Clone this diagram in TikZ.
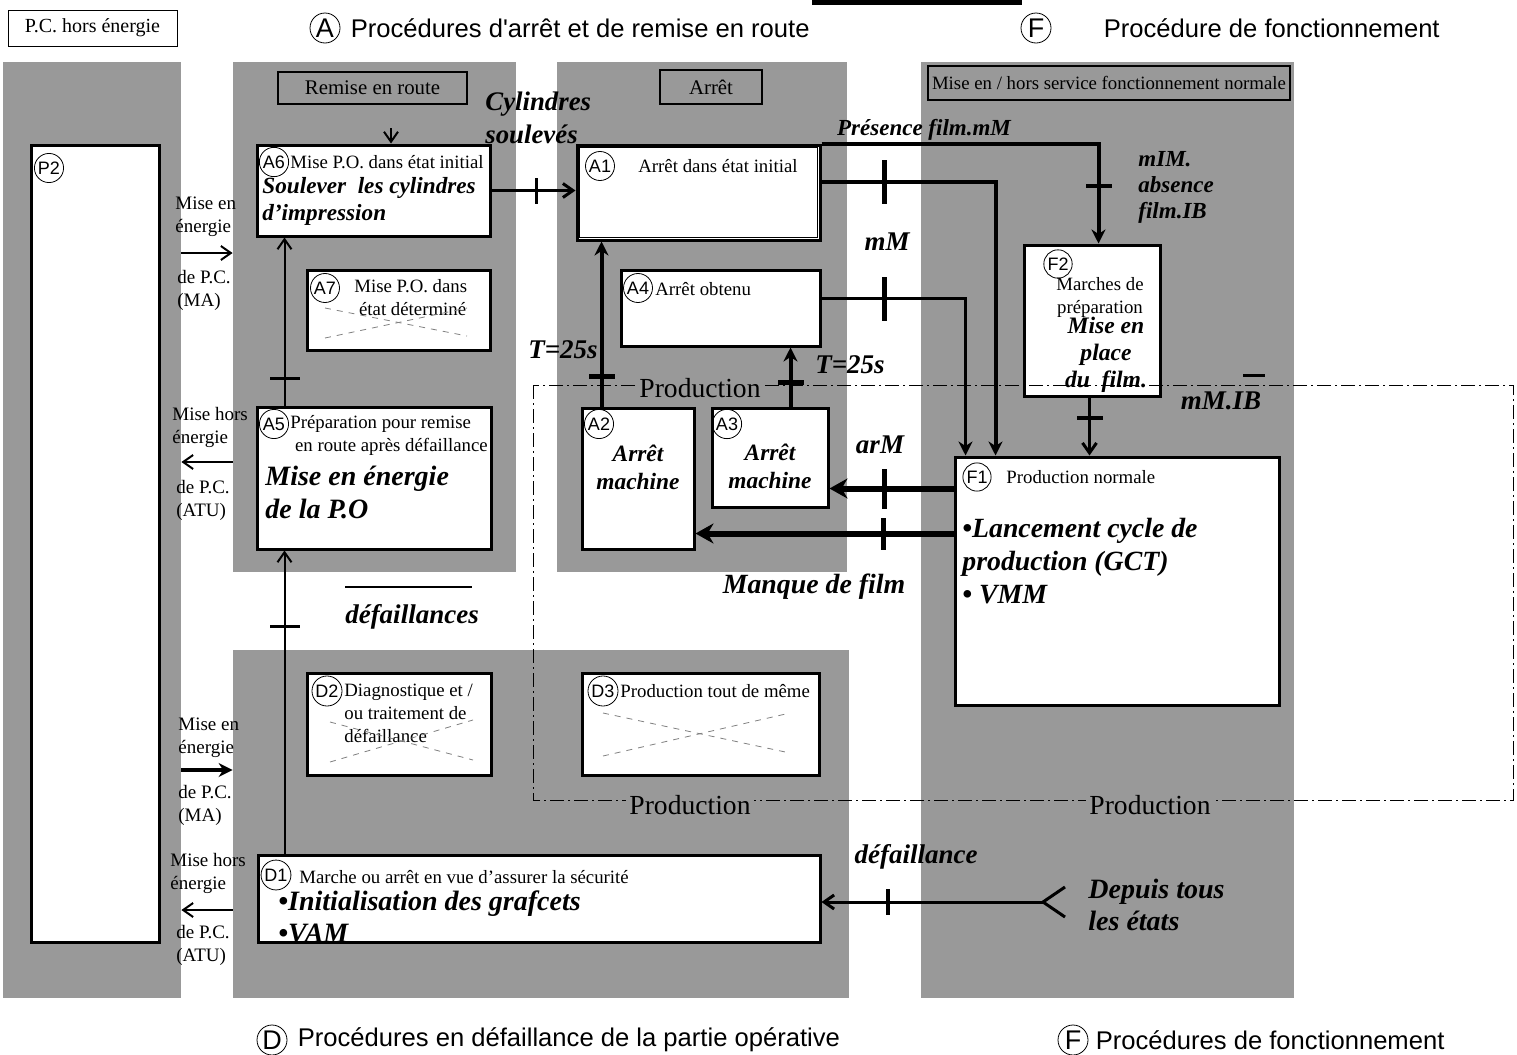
\documentclass[tikz,border=0pt]{standalone}
\usepackage{fontspec}
\setmainfont{Liberation Serif}
\newfontfamily\arialfont{Liberation Sans}
\usetikzlibrary{arrows.meta,positioning,fit,calc}
\newcommand{\gemmaUnit}{0.5pt}
\newcommand{\petit}{\fontsize{9.4}{11.5}\selectfont}
\newcommand{\moyen}{\fontsize{9.5}{11.5}\selectfont}
\newcommand{\grand}[2]{\bfseries\itshape\fontsize{#1}{#2}\selectfont}

\begin{document}
\begin{tikzpicture}[x=\gemmaUnit, y=-\gemmaUnit]
  \tikzset{
    fond/.style={fill=black!40, draw=none, inner sep=0pt},
    entete/.style={draw, thick, fill=black!40, inner sep=0pt, font=\fontsize{10.4}{12}\selectfont},
    etape/.style={draw, line width=1.5pt, fill=white, inner sep=0pt},
    rond/.style={circle, draw, thin, inner sep=0.7pt, font=\arialfont\fontsize{9}{10}\selectfont},
    rond titre/.style={circle, draw, thin, inner sep=0.5pt, minimum size=15pt, font=\arialfont\fontsize{13.5}{14}\selectfont},
    titre/.style={font=\arialfont\fontsize{12.8}{15}\selectfont, inner sep=0pt},
    texte/.style={font=\petit, inner sep=0pt, anchor=west, align=left},
    action/.style={font=\grand{11.6}{13.5}, inner sep=0pt, align=left},
    cond/.style={font=\grand{13.5}{14}, inner sep=0pt, align=left},
    cote/.style={font=\moyen, inner sep=0pt, anchor=west, align=left},
    lien/.style={line width=1pt, -{Straight Barb[length=5pt, width=7pt]}},
    lienfort/.style={line width=2pt, -{Stealth[length=7pt, width=7pt]}},
    liengras/.style={line width=3pt, -{Stealth[length=9pt, width=10pt]}},
    recept/.style={fill, sloped, inner sep=0pt, minimum width=1.6pt, minimum height=13pt},
    barre/.style={gray, thin, dashed},
    prod/.style={thin, dash pattern=on 7pt off 2pt on 1pt off 2pt},
    prodtxt/.style={fill=black!40, inner sep=1.5pt, font=\fontsize{13.8}{15}\selectfont},
  }
  \useasboundingbox (0,0) rectangle (1517,1055);

  \node[fond, fit={(3,62) (181,998)}] (panel-P) {};
  \node[fond, fit={(233,62) (516,572)}] (panel-A) {};
  \node[fond, fit={(557,62) (847,572)}] (panel-Ar) {};
  \node[fond, fit={(921,62) (1294,998)}] (panel-F) {};
  \node[fond, fit={(233,650) (849,998)}] (panel-D) {};

  \draw[line width=2.5pt] (812,2) -- (1022,2);
  \node[draw, thin, minimum width=84.5pt, minimum height=18pt, inner sep=0pt,
    font=\fontsize{10}{12}\selectfont] (pc-hors) at (92.5,28) {P.C. hors énergie};
  \node[rond titre] (rond-A) at (325,28) {A};
  \node[titre, right=5pt of rond-A] (titre-A) {Procédures d'arrêt et de remise en route};
  \node[rond titre] (rond-F) at (1036,28) {F};
  \node[titre, right=26pt of rond-F] (titre-F) {Procédure de fonctionnement};
  \node[rond titre] (rond-D) at (272,1040) {D};
  \node[titre, right=5pt of rond-D] (titre-D) {Procédures en défaillance de la partie opérative};
  \node[rond titre] (rond-F-2) at (1073,1040) {F};
  \node[titre, right=3.5pt of rond-F-2] (titre-F-2) {Procédures de fonctionnement};

  \node[entete, minimum width=94.5pt, minimum height=16pt] (hd-A) at (372.5,88) {Remise en route};
  \node[entete, minimum width=51pt, minimum height=17pt] (hd-Ar) at (711,87) {Arrêt};
  \node[entete, minimum width=181pt, minimum height=17pt, font=\fontsize{9.4}{11}\selectfont]
    (hd-F) at (1109,83) {Mise en / hors service fonctionnement normale};

  \node[etape, fit={(31,145) (159,942)}] (P2) {};
  \node[etape, fit={(257,145) (490,236)}] (A6) {};
  \node[etape, fit={(307,270) (490,350)}] (A7) {};
  \node[etape, fit={(257,407) (491,549)}] (A5) {};
  \node[etape, fit={(577,145) (820,240)}] (A1) {};
  \node[etape, fit={(621,270) (820,346)}] (A4) {};
  \node[etape, fit={(582,408) (694,549)}] (A2) {};
  \node[etape, fit={(712,408) (828,507)}] (A3) {};
  \node[etape, fit={(1024,245) (1160,396)}] (F2) {};
  \node[etape, fit={(955,457) (1279,705)}] (F1) {};
  \node[etape, fit={(307,673) (491,775)}] (D2) {};
  \node[etape, fit={(582,673) (819,775)}] (D3) {};
  \node[etape, fit={(258,855) (820,942)}] (D1) {};
  \draw[thin] ([shift={(4,4)}]A1.north west) rectangle ([shift={(-4,-4)}]A1.south east);

  \node[rond] (n-P2) at (49,168) {P2};
  \node[rond] (n-A6) at (274,162) {A6};
  \node[texte] (x-A6) at (290,162) {Mise P.O. dans état initial};
  \node[action, anchor=west] (y-A6) at (262,201) {Soulever\ \ les cylindres\\d'impression};
  \node[rond] (n-A7) at (325,288) {A7};
  \node[texte] (x-A7) at (354,298) {Mise P.O. dans\\\ état déterminé};
  \node[rond] (n-A5) at (274,424) {A5};
  \node[texte] (x-A5) at (290,435) {Préparation pour remise\\\ en route après défaillance};
  \node[action, anchor=west, font=\grand{14}{16.5}] (y-A5) at (265,492) {Mise en énergie\\de la P.O};
  \node[rond] (n-A1) at (600,166) {A1};
  \node[texte, anchor=center] (x-A1) at (718,166) {Arrêt dans état initial};
  \node[rond] (n-A4) at (638,288) {A4};
  \node[texte] (x-A4) at (655,289) {Arrêt obtenu};
  \node[rond] (n-A2) at (599,424) {A2};
  \node[action, align=center, font=\grand{11.7}{14}] (y-A2) at (638,467) {Arrêt\\machine};
  \node[rond] (n-A3) at (727,424) {A3};
  \node[action, align=center, font=\grand{11.7}{14}] (y-A3) at (770,466) {Arrêt\\machine};
  \node[rond] (n-F2) at (1058,264) {F2};
  \node[texte, anchor=center, align=center] (x-F2) at (1100,297) {Marches de\\préparation};
  \node[action, align=center, font=\grand{11.8}{13.5}] (y-F2) at (1106,355) {Mise en\\place\\du\ \ film.};
  \node[rond] (n-F1) at (977,477) {F1};
  \node[texte] (x-F1) at (1006,477) {Production normale};
  \node[action, anchor=west, font=\grand{13.9}{16.5}] (y-F1) at (962,561)
    {\textbullet Lancement cycle de\\production (GCT)\\\textbullet\ VMM};
  \node[rond] (n-D2) at (327,691) {D2};
  \node[texte] (x-D2) at (344,713) {Diagnostique et /\\ou traitement de\\défaillance};
  \node[rond] (n-D3) at (603,691) {D3};
  \node[texte] (x-D3) at (620,691) {Production tout de même};
  \node[rond] (n-D1) at (276,875) {D1};
  \node[texte] (x-D1) at (299,877) {Marche ou arrêt en vue d'assurer la sécurité};
  \node[action, anchor=west, font=\grand{14}{16}] (y-D1) at (278,917)
    {\textbullet Initialisation des grafcets\\\textbullet VAM};

  \draw[barre] (325,308) -- (467,336);
  \draw[barre] (325,338) -- (467,308);
  \draw[barre] (330,722) -- (473,760);
  \draw[barre] (330,762) -- (473,720);
  \draw[barre] (603,713) -- (790,753);
  \draw[barre] (603,756) -- (790,713);

  \coordinate (y-1) at (0,253);
  \coordinate (y-2) at (0,462);
  \coordinate (y-3) at (0,770);
  \coordinate (y-4) at (0,910);
  \draw[lien] (panel-P.east |- y-1) -- (panel-A.west |- y-1);
  \draw[lien] (panel-A.west |- y-2) -- (panel-P.east |- y-2);
  \draw[lienfort] (panel-P.east |- y-3) -- (panel-D.west |- y-3);
  \draw[lien] (panel-D.west |- y-4) -- (panel-P.east |- y-4);
  \node[cote] (s-1) at (175,217) {Mise en\\énergie};
  \node[cote] (s-2) at (177,290) {de P.C.\\(MA)};
  \node[cote] (s-3) at (172,427) {Mise hors\\énergie};
  \node[cote] (s-4) at (176,500) {de P.C.\\(ATU)};
  \node[cote] (s-5) at (178,738) {Mise en\\énergie};
  \node[cote] (s-6) at (178,805) {de P.C.\\(MA)};
  \node[cote] (s-7) at (170,873) {Mise hors\\énergie};
  \node[cote] (s-8) at (176,945) {de P.C.\\(ATU)};

  \coordinate (rr) at (391,128);
  \draw[lien] (rr) -- (rr |- A6.north);
  \draw[lien, line width=1.5pt] (A6.east) -- node[recept, pos=0.54] (t-A6) {} (A1.west |- A6.east);
  \coordinate (a5d) at ($(A5.north west)+(29,0)$);
  \draw[lien] (a5d) -- node[recept, pos=0.16, minimum height=15pt] (t-A5) {} (a5d |- A6.south);
  \coordinate (d1d) at ($(D1.north west)+(28,0)$);
  \draw[lien] (d1d) -- node[recept, pos=0.75, minimum height=15pt] (t-D1) {} (d1d |- A5.south);
  \coordinate (a2d) at ($(A2.north west)+(21,0)$);
  \draw[lienfort] (a2d) -- node[recept, pos=0.18, minimum width=2.5pt] (t-A2) {} (a2d |- A1.south);
  \coordinate (a3d) at ($(A3.north west)+(80,0)$);
  \draw[lienfort] (a3d) -- node[recept, pos=0.4, minimum width=2.5pt] (t-A3) {} (a3d |- A4.south);
  \draw[lienfort] (A1.north east) -| node[recept, pos=0.71, minimum width=2pt] (t-pres) {}
    ($(F2.north west)+(76,0)$);
  \coordinate (a1d) at ($(A1.north east)+(0,38)$);
  \draw[lienfort] (a1d) -| node[recept, pos=0.18, minimum width=2.5pt, minimum height=22pt] (t-mM) {}
    ($(F1.north west)+(42,0)$);
  \coordinate (a4d) at ($(A4.north east)+(0,30)$);
  \draw[lienfort, line width=1.5pt] (a4d) -| node[recept, pos=0.22, minimum width=2.5pt, minimum height=22pt] (t-A4) {}
    ($(F1.north west)+(12,0)$);
  \coordinate (f2d) at ($(F2.south west)+(67,0)$);
  \draw[lien, line width=1.5pt] (f2d) -- node[recept, pos=0.36, minimum width=2pt] (t-F2) {} (f2d |- F1.north);
  \draw[liengras] ($(F1.north west)+(0,33)$) -- node[recept, pos=0.56, minimum width=2.5pt, minimum height=20pt] (t-arM) {}
    ($(A3.north east)+(0,82)$);
  \draw[liengras] ($(F1.north west)+(0,78)$) -- node[recept, pos=0.27, minimum width=2.5pt, minimum height=16pt] (t-manque) {}
    ($(A2.north east)+(0,127)$);
  \coordinate (dep) at (1043,902);
  \draw[line width=1.5pt] (1065,887) -- (dep) -- (1065,917);
  \draw[lien, line width=1.5pt] (dep) -- node[recept, pos=0.7, minimum width=2pt] (t-dep) {} (D1.east |- dep);

  \draw[prod] (533,385) rectangle (1513,800);
  \node[prodtxt] (prod-1) at (700,388) {Production};
  \node[prodtxt] (prod-2) at (690,805) {Production};
  \node[prodtxt] (prod-3) at (1150,805) {Production};

  \node[cond, anchor=west, font=\grand{13.4}{16.5}] (c-cyl) at (485,118) {Cylindres\\soulevés};
  \node[cond, font=\grand{11.5}{13}] (c-pres) at (924,130) {Présence film.mM};
  \node[cond, anchor=west, font=\grand{11.5}{13}] (c-absence) at (1138,187) {mIM.\\absence\\film.IB};
  \node[cond] (c-mM) at (887,242) {mM};
  \node[cond] (c-T1) at (563,350) {T=25s};
  \node[cond] (c-T2) at (850,365) {T=25s};
  \node[cond] (c-mMIB) at (1221,401) {mM.IB};
  \draw[line width=1.5pt] (1243,375) -- (1265,375);
  \node[cond] (c-arM) at (880,445) {arM};
  \node[cond, font=\grand{13.9}{15}] (c-manque) at (814,587) {Manque de film};
  \draw[line width=1pt] (345,587) -- (472,587);
  \node[cond] (c-defs) at (412,617) {défaillances};
  \node[cond] (c-def) at (916,857) {défaillance};
  \node[cond, anchor=west, font=\grand{14}{16}] (c-depuis) at (1088,905) {Depuis tous\\les états};
\end{tikzpicture}
\end{document}
